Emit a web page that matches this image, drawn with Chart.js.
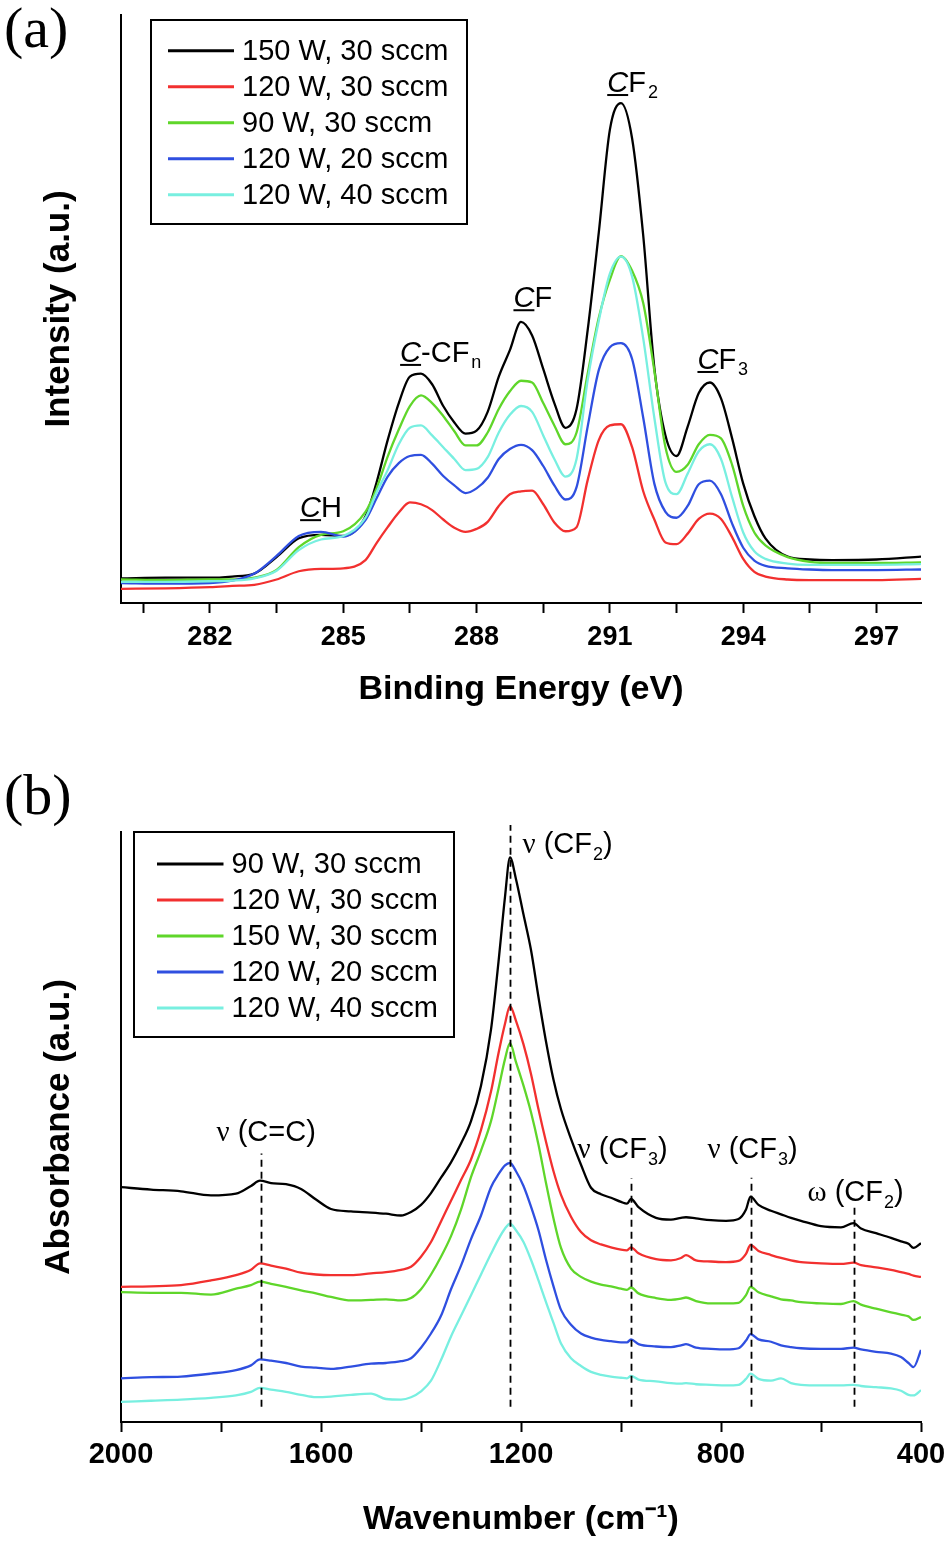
<!DOCTYPE html>
<html><head><meta charset="utf-8">
<script src="https://cdn.jsdelivr.net/npm/chart.js@4.4.1/dist/chart.umd.min.js"></script>
<style>
html,body{margin:0;padding:0;background:#fff;width:945px;height:1541px;overflow:hidden}
#wrapA{position:absolute;left:0;top:0;width:945px;height:720px}
#wrapB{position:absolute;left:0;top:720px;width:945px;height:821px}
canvas{display:block}
</style></head><body>
<div id="wrapA"><canvas id="chartA" width="945" height="720" style="width:945px;height:720px"></canvas></div>
<div id="wrapB"><canvas id="chartB" width="945" height="821" style="width:945px;height:821px"></canvas></div>
<script>
// ---------- Panel (a): XPS C1s ----------
const xpsEnergy = [280,281,282,282.5,283,283.5,284,284.5,285,285.5,285.75,286,286.25,286.5,286.75,287,287.25,287.5,287.75,288,288.25,288.5,288.75,289,289.25,289.5,289.75,290,290.25,290.5,290.75,291,291.25,291.5,291.75,292,292.25,292.5,292.75,293,293.25,293.5,293.75,294,294.25,294.5,295,295.5,296,297,298];
const xps150W30 = [4.2,4.3,4.3,4.5,5.0,7.8,11.0,11.6,11.4,14.7,20.5,27.7,34.0,38.5,39.0,37.2,33.5,30.7,28.8,29.3,32.5,38.5,43.0,47.8,45.5,39.8,34.0,29.8,33.0,46.4,63.0,80.5,85.0,79.0,62.5,40.0,28.5,25.0,30.0,35.7,37.5,34.8,28.0,20.3,14.8,11.0,7.9,7.4,7.3,7.4,7.9];
const xps120W30 = [2.4,2.5,2.7,2.9,3.1,4.0,5.4,5.8,5.9,7.3,10.2,12.9,15.4,17.1,16.8,15.8,14.2,12.8,12.1,12.6,13.8,16.5,18.5,19.0,19.1,16.8,13.7,12.2,12.9,20.9,27.7,30.2,30.4,26.5,19.0,14.2,10.3,10.0,11.8,14.3,15.2,14.3,11.2,7.5,5.3,4.5,4.0,3.9,3.9,3.9,4.1];
const xps90W30 = [4.0,3.9,4.0,4.0,4.3,5.6,9.5,11.6,12.2,15.5,19.5,24.9,29.5,33.5,35.3,34.0,31.8,29.2,26.8,26.8,29.0,33.0,36.0,37.8,37.5,34.0,30.2,27.0,29.0,39.0,48.5,55.0,59.0,56.5,51.0,39.5,26.5,22.3,23.5,27.0,28.6,28.0,23.5,16.5,12.0,9.8,7.8,7.0,6.8,6.8,6.9];
const xps120W20 = [3.4,3.3,3.4,3.8,5.0,8.0,11.4,12.1,11.3,14.1,17.8,21.5,23.8,25.0,25.2,23.7,21.6,20.0,18.7,19.5,21.3,24.5,26.2,26.9,26.0,23.3,20.0,17.6,19.7,30.0,39.6,43.5,44.2,41.5,31.5,20.3,15.5,14.5,16.5,20.2,20.8,18.5,13.5,9.4,7.2,6.3,5.9,5.7,5.6,5.6,5.7];
const xps120W40 = [3.6,3.6,3.7,3.8,4.2,5.5,9.0,10.8,11.4,14.5,18.8,22.6,27.0,29.8,30.2,28.5,26.5,24.5,22.6,22.8,24.8,29.0,32.0,33.5,32.5,28.5,24.5,21.5,24.5,37.9,48.0,56.0,58.9,55.5,45.0,31.5,20.5,18.5,22.0,25.8,27.0,24.5,18.0,12.0,8.8,7.5,6.7,6.5,6.5,6.5,6.6];
const xpsLabels = ['150 W, 30 sccm','120 W, 30 sccm','90 W, 30 sccm','120 W, 20 sccm','120 W, 40 sccm'];
const xpsMajorTicks = [282,285,288,291,294,297];
const xpsMinorTicks = [280.5,283.5,286.5,289.5,292.5,295.5];
// peak labels: underlined italic lead letter + body + subscript
const xpsPeakLead = ['C','C','C','C','C'];
const xpsPeakBody = ['H','-CF','F','F','F'];
const xpsPeakSub  = ['','n','','2','3'];
const xpsPeakEnergy = [284.03,286.28,288.83,290.94,292.97];
const xpsPeakLevel  = [14.6,41.0,50.3,86.9,39.8];

// ---------- Panel (b): FTIR ----------
const ftirWavenumber = [2000,1940,1880,1820,1770,1740,1722,1700,1670,1640,1610,1580,1540,1500,1470,1440,1420,1400,1380,1360,1340,1320,1300,1280,1260,1245,1232,1222,1210,1195,1180,1165,1150,1135,1120,1100,1080,1060,1040,1020,1000,988,980,965,930,900,880,870,850,820,790,765,750,741,725,700,680,660,640,600,560,535,520,490,460,440,425,415,400];
const ftir90W30 = [39.8,39.4,39.1,38.4,38.7,40.0,40.9,40.5,40.3,39.5,37.7,36.1,35.7,35.5,35.3,35.0,35.6,36.8,38.8,41.4,44.0,47.2,51.0,57.0,66.5,78,89,95.7,92,86,80,72,64.5,58,53,48,43.6,39.7,38.6,38.0,37.3,37.0,37.8,36.4,34.6,34.3,34.6,34.7,34.5,34.2,34.1,34.4,36.0,38.2,36.8,35.8,35.2,34.6,34.1,33.2,33.0,33.7,32.8,32.0,31.2,30.6,30.2,29.5,30.3];
const ftir120W30 = [22.9,23.0,23.2,24.0,24.9,25.8,26.9,26.5,26.0,25.3,25.0,24.9,24.9,25.2,25.4,25.8,26.3,28.0,30.5,34.0,37.5,41.0,44.5,49.5,56.0,62.5,67.5,70.5,68.0,64.0,59.0,53.0,47.5,42.5,38.5,34.8,32.2,30.8,30.1,29.6,29.2,29.1,29.6,28.6,27.6,27.4,27.8,28.3,27.4,27.2,27.1,27.3,28.5,30.0,29.0,28.3,27.8,27.4,27.1,26.9,26.8,27.0,26.6,26.2,25.8,25.4,25.1,24.8,24.6];
const ftir150W30 = [22.0,21.9,21.9,21.6,22.6,23.2,23.8,23.4,22.9,22.3,21.8,21.2,20.6,20.7,20.8,20.6,21.0,22.5,25.0,28.0,31.5,36.0,41.5,46.0,51.0,56.5,61.5,64.2,61.0,57.0,52.5,47.0,40.5,34.5,29.5,26.0,24.6,23.8,23.3,23.0,22.6,22.4,22.8,21.8,21.0,20.7,20.9,21.1,20.5,20.1,20.1,20.2,21.5,22.9,22.0,21.3,20.8,20.6,20.3,20.1,20.0,20.5,19.9,19.2,18.6,18.2,17.9,17.3,17.8];
const ftir120W20 = [7.4,7.6,7.7,8.2,8.8,9.6,10.6,10.4,10.0,9.4,9.2,9.0,9.4,9.9,10.0,10.3,10.8,12.6,15.0,18.0,22.5,26.5,31.0,35.0,39.8,42.0,43.5,43.9,42.5,40.0,36.5,32.5,27.5,23.0,19.0,16.5,15.0,14.3,13.9,13.7,13.5,13.5,14.0,13.2,12.8,12.7,13.0,13.2,12.6,12.4,12.3,12.5,13.8,14.9,14.0,13.6,13.0,12.7,12.5,12.4,12.4,12.6,12.3,11.9,11.6,11.0,10.0,9.3,12.2];
const ftir120W40 = [3.4,3.6,3.8,4.1,4.5,5.1,5.8,5.5,5.1,4.6,4.2,4.3,4.6,4.8,3.9,3.8,4.2,5.2,7.0,10.5,14.5,18.0,21.5,25.0,28.5,31.0,32.8,33.6,32.5,30.5,27.5,24.0,20.3,16.8,13.3,10.8,9.5,8.5,8.0,7.7,7.5,7.4,7.8,7.2,6.9,6.6,6.5,6.6,6.4,6.3,6.2,6.3,7.3,8.2,7.3,7.0,7.4,6.6,6.3,6.2,6.2,6.3,6.1,5.9,5.7,5.3,4.6,4.5,5.4];
const ftirLabels = ['90 W, 30 sccm','120 W, 30 sccm','150 W, 30 sccm','120 W, 20 sccm','120 W, 40 sccm'];
const ftirMajorTicks = [2000,1600,1200,800,400];
const ftirMinorTicks = [1800,1400,1000,600];
// band markers (dashed lines) and their labels
const ftirBandPos = [1720,1223,980,741,535];
const ftirBandTop = [45.5,101.2,41.3,41.4,37.1];
const ftirBandGreek = ['\u03BD','\u03BD','\u03BD','\u03BD','\u03C9'];
const ftirBandGroup = ['C=C','CF','CF','CF','CF'];
const ftirBandSub = ['','2','3','3','2'];
const ftirBandLabelW = [1809,1197,1087,827,627];
const ftirBandLabelLevel = [47.7,96.4,44.7,44.7,37.5];

// ---------- styling ----------
const seriesColors = ['#000000','#f2302f','#5fd62a','#2f4fe0','#78efe0'];
const ftirColors = ['#000000','#f2302f','#5fd62a','#2f4fe0','#78efe0'];
const SANS = '"Liberation Sans", Arial, Helvetica, sans-serif';
const SERIF = '"Liberation Serif", "Times New Roman", serif';

function mkData(xs, ys){ return xs.map((x,i)=>({x:x, y:ys[i]})); }

function drawLegend(ctx, box, labels, colors){
  ctx.save();
  ctx.strokeStyle = '#000'; ctx.lineWidth = 2;
  ctx.fillStyle = '#fff';
  ctx.fillRect(box.x, box.y, box.w, box.h);
  ctx.strokeRect(box.x, box.y, box.w, box.h);
  ctx.font = '29px ' + SANS;
  ctx.textBaseline = 'middle'; ctx.textAlign = 'left';
  labels.forEach((t,i)=>{
    const yy = box.y + box.row0 + i*box.dy;
    ctx.strokeStyle = colors[i]; ctx.lineWidth = 3;
    ctx.beginPath(); ctx.moveTo(box.x + box.l1, yy); ctx.lineTo(box.x + box.l2, yy); ctx.stroke();
    ctx.fillStyle = '#000';
    ctx.fillText(t, box.x + box.tx, yy + 1);
  });
  ctx.restore();
}

function drawPanelLetter(ctx, txt, x, y){
  ctx.save();
  ctx.font = '58px ' + SERIF;
  ctx.fillStyle = '#000'; ctx.textBaseline = 'alphabetic'; ctx.textAlign = 'left';
  ctx.fillText(txt, x, y);
  ctx.restore();
}

const xpsDecor = {
  id: 'xpsDecor',
  afterDatasetsDraw(chart){
    const ctx = chart.ctx, xs = chart.scales.x, ys = chart.scales.y;
    ctx.save();
    ctx.fillStyle = '#000'; ctx.textAlign = 'left'; ctx.textBaseline = 'alphabetic';
    for (let i=0;i<xpsPeakLead.length;i++){
      const px = xs.getPixelForValue(xpsPeakEnergy[i]);
      const py = ys.getPixelForValue(xpsPeakLevel[i]);
      ctx.font = 'italic 29px ' + SANS;
      ctx.fillText(xpsPeakLead[i], px, py);
      const wl = ctx.measureText(xpsPeakLead[i]).width;
      ctx.fillRect(px, py + 2, wl, 2);
      ctx.font = '29px ' + SANS;
      ctx.fillText(xpsPeakBody[i], px + wl, py);
      const wb = ctx.measureText(xpsPeakBody[i]).width;
      if (xpsPeakSub[i]){
        ctx.font = '18px ' + SANS;
        ctx.fillText(xpsPeakSub[i], px + wl + wb + 2, py + 6);
      }
    }
    ctx.restore();
  },
  afterDraw(chart){
    const ca = chart.chartArea;
    drawLegend(chart.ctx, {x: ca.left + 30, y: ca.top + 5, w: 316, h: 204, row0: 30.7, dy: 36, l1: 17, l2: 83, tx: 91}, xpsLabels, seriesColors);
    drawPanelLetter(chart.ctx, '(a)', 4, 47);
  }
};

const ftirDecor = {
  id: 'ftirDecor',
  afterDatasetsDraw(chart){
    const ctx = chart.ctx, xs = chart.scales.x, ys = chart.scales.y;
    ctx.save();
    ctx.strokeStyle = '#000'; ctx.lineWidth = 1.8; ctx.setLineDash([7,5]);
    for (let i=0;i<ftirBandPos.length;i++){
      const px = Math.round(xs.getPixelForValue(ftirBandPos[i])) + 0.5;
      ctx.beginPath();
      ctx.moveTo(px, ys.getPixelForValue(2.6));
      ctx.lineTo(px, ys.getPixelForValue(ftirBandTop[i]));
      ctx.stroke();
    }
    ctx.setLineDash([]);
    ctx.fillStyle = '#000'; ctx.textAlign = 'left'; ctx.textBaseline = 'alphabetic';
    for (let i=0;i<ftirBandGreek.length;i++){
      let px = xs.getPixelForValue(ftirBandLabelW[i]);
      const py = ys.getPixelForValue(ftirBandLabelLevel[i]);
      ctx.font = '29px ' + SERIF;
      ctx.fillText(ftirBandGreek[i], px, py);
      px += ctx.measureText(ftirBandGreek[i]).width;
      ctx.font = '29px ' + SANS;
      const t1 = ' (' + ftirBandGroup[i];
      ctx.fillText(t1, px, py);
      px += ctx.measureText(t1).width;
      if (ftirBandSub[i]){
        ctx.font = '18px ' + SANS;
        ctx.fillText(ftirBandSub[i], px + 1, py + 7);
        px += ctx.measureText(ftirBandSub[i]).width + 1;
        ctx.font = '29px ' + SANS;
      }
      ctx.fillText(')', px, py);
    }
    ctx.restore();
  },
  afterDraw(chart){
    const ca = chart.chartArea;
    drawLegend(chart.ctx, {x: ca.left + 13, y: ca.top, w: 320, h: 205, row0: 32, dy: 36, l1: 23, l2: 89.5, tx: 97.6}, ftirLabels, ftirColors);
    drawPanelLetter(chart.ctx, '(b)', 4, 94);
  }
};

function axisOpts(){
  return {
    grid: {display: true, drawOnChartArea: false, drawTicks: true, tickLength: 10, tickWidth: 2, tickColor: '#000'},
    border: {display: true, color: '#000', width: 2}
  };
}

function makeChart(canvasId, cfg){
  const xAxis = Object.assign(axisOpts(), {
    type: 'linear', min: cfg.xmin, max: cfg.xmax, reverse: cfg.reverse,
    afterBuildTicks(s){ s.ticks = cfg.major.concat(cfg.minor).sort((a,b)=>a-b).map(v=>({value:v})); },
    afterFit(s){ s.height = cfg.xAxisHeight; s.paddingLeft = 0; s.paddingRight = 0; },
    ticks: {autoSkip: false, maxRotation: 0, minRotation: 0, padding: cfg.tickPad, color: '#000',
      font: {family: SANS, size: cfg.tickSize, weight: 'bold'},
      callback: (v)=> cfg.major.includes(v) ? String(v) : ''},
    title: {display: true, text: cfg.xTitle, color: '#000', font: {family: SANS, size: 34, weight: 'bold'}, padding: {top: 0, bottom: cfg.xTitlePad}}
  });
  const yAxis = {
    min: 0, max: 100,
    afterFit(s){ s.width = 121; },
    ticks: {display: false},
    grid: {display: true, drawOnChartArea: false, drawTicks: false},
    border: {display: true, color: '#000', width: 2},
    title: {display: true, text: cfg.yTitle, color: '#000', font: {family: SANS, size: 35, weight: 'bold'}, padding: {top: 38, bottom: 0}}
  };
  return new Chart(document.getElementById(canvasId), {
    type: 'line',
    data: {datasets: cfg.series.map((ys,i)=>({
      label: cfg.labels[i], data: mkData(cfg.xs, ys), borderColor: cfg.colors[i],
      borderWidth: 2.3, pointRadius: 0, fill: false, cubicInterpolationMode: 'monotone'
    })).reverse()},
    options: {
      responsive: false, devicePixelRatio: 1, animation: false,
      layout: {padding: {left: 0, top: cfg.padTop, right: 24, bottom: 0}},
      plugins: {legend: {display: false}, tooltip: {enabled: false}},
      scales: {x: xAxis, y: yAxis}
    },
    plugins: [cfg.decor]
  });
}

makeChart('chartA', {
  xs: xpsEnergy, series: [xps150W30, xps120W30, xps90W30, xps120W20, xps120W40],
  labels: xpsLabels, colors: seriesColors,
  xmin: 280, xmax: 298, reverse: false, major: xpsMajorTicks, minor: xpsMinorTicks,
  tickSize: 27, tickPad: 8,
  xAxisHeight: 117, xTitle: 'Binding Energy (eV)', xTitlePad: 10, yTitle: 'Intensity (a.u.)',
  padTop: 15, decor: xpsDecor
});
makeChart('chartB', {
  xs: ftirWavenumber, series: [ftir90W30, ftir120W30, ftir150W30, ftir120W20, ftir120W40],
  labels: ftirLabels, colors: ftirColors,
  xmin: 400, xmax: 2000, reverse: true, major: ftirMajorTicks, minor: ftirMinorTicks,
  tickSize: 29, tickPad: 6,
  xAxisHeight: 119, xTitle: 'Wavenumber (cm\u207B\u00B9)', xTitlePad: 1, yTitle: 'Absorbance (a.u.)',
  padTop: 112, decor: ftirDecor
});
</script>
</body></html>
